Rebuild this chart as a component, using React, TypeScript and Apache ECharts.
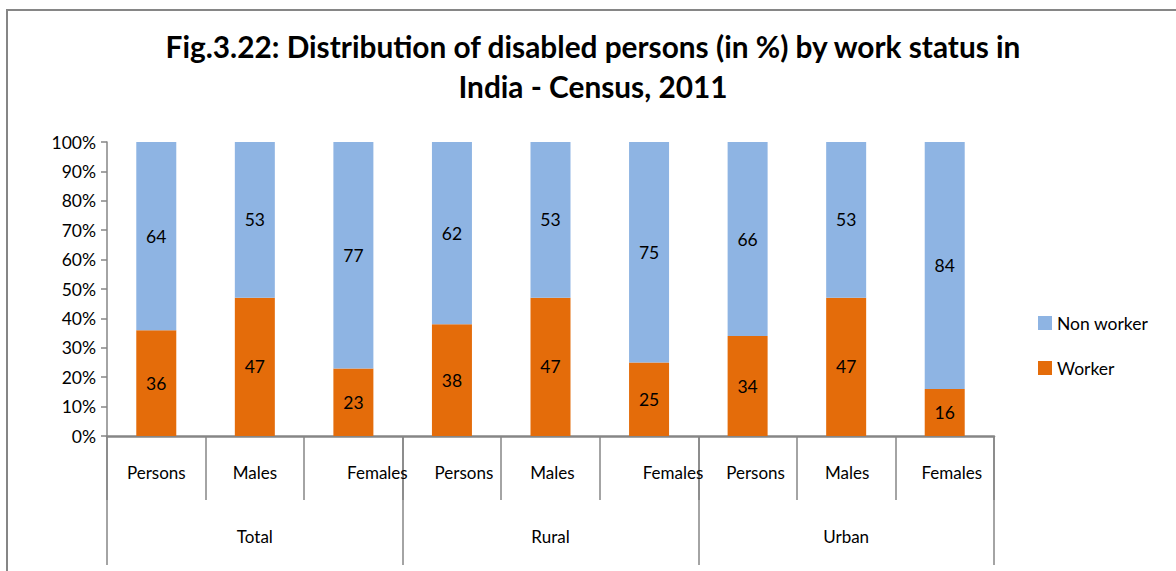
import React, { useEffect, useRef } from "react";
import * as echarts from "echarts";

const subCategories = ["Persons", "Males", "Females", "Persons", "Males", "Females", "Persons", "Males", "Females"];
const groups = ["Total", "Rural", "Urban"];
const worker = [36, 47, 23, 38, 47, 25, 34, 47, 16];
const nonWorker = [64, 53, 77, 62, 53, 75, 66, 53, 84];
const titleText = "Fig.3.22: Distribution of disabled persons (in %) by work status in\nIndia - Census, 2011";

// label horizontal nudges (style only), as in the reference rendering
const labelShift = [0, 0, 24, 12, 2, 24, 8, 1, 7];

const FONT = "Lato";
const GRAY = "#868686";

export default function App() {
  const ref = useRef<HTMLDivElement>(null);
  useEffect(() => {
    document.body.style.margin = "0";
    const chart = echarts.init(ref.current!, null, { renderer: "svg" });
    const rich: Record<string, any> = {};
    labelShift.forEach((s, i) => {
      rich["s" + i] = {
        fontFamily: FONT,
        fontSize: 17,
        color: "#000",
        padding: s >= 0 ? [0, 0, 0, 2 * s] : [0, -2 * s, 0, 0],
      };
    });
    chart.setOption({
      animation: false,
      textStyle: { fontFamily: FONT },
      title: {
        text: titleText,
        left: 593,
        top: 26,
        padding: 0,
        textAlign: "center",
        textStyle: { fontFamily: FONT, fontSize: 29.8, fontWeight: "bold", color: "#000", lineHeight: 40 },
      },
      legend: {
        orient: "vertical",
        left: 1033,
        top: 309,
        itemWidth: 14,
        itemHeight: 14,
        itemGap: 27,
        icon: "rect",
        data: ["Non worker", "Worker"],
        textStyle: { fontFamily: FONT, fontSize: 17.5, color: "#000" },
      },
      grid: { left: 107, right: 182, top: 142, bottom: 135, containLabel: false },
      xAxis: [
        {
          type: "category",
          data: subCategories,
          position: "bottom",
          axisLine: { show: true, lineStyle: { color: GRAY, width: 2.5 } },
          axisTick: { show: true, interval: 0, length: 64, lineStyle: { color: GRAY, width: 1.5 } },
          axisLabel: {
            interval: 0,
            margin: 28,
            formatter: (v: string, i: number) => `{s${i}|${v}}`,
            rich,
          },
        },
        {
          type: "category",
          data: groups,
          position: "bottom",
          axisLine: { show: false },
          axisTick: { show: true, interval: 0, length: 129, lineStyle: { color: GRAY, width: 1.5 } },
          axisLabel: { interval: 0, margin: 92, fontFamily: FONT, fontSize: 17, color: "#000" },
        },
      ],
      yAxis: {
        type: "value",
        min: 0,
        max: 100,
        interval: 10,
        axisLine: { show: true, lineStyle: { color: GRAY, width: 1.5 } },
        axisTick: { show: true, length: 6, lineStyle: { color: GRAY, width: 1.5 } },
        splitLine: { show: false },
        axisLabel: { formatter: "{value}%", fontFamily: FONT, fontSize: 17.5, color: "#000", margin: 11 },
      },
      series: [
        {
          name: "Worker",
          type: "bar",
          stack: "all",
          data: worker,
          barWidth: 40,
          itemStyle: { color: "#E46C0A" },
          label: { show: true, position: "inside", fontFamily: FONT, fontSize: 17.5, color: "#000" },
        },
        {
          name: "Non worker",
          type: "bar",
          stack: "all",
          data: nonWorker,
          barWidth: 40,
          itemStyle: { color: "#8EB4E3" },
          label: { show: true, position: "inside", fontFamily: FONT, fontSize: 17.5, color: "#000" },
        },
      ],
      graphic: [
        {
          type: "rect",
          shape: { x: 7, y: 10, width: 1400, height: 800 },
          style: { fill: "none", stroke: GRAY, lineWidth: 2 },
          silent: true,
          z: -1,
        },
      ],
    });
    return () => chart.dispose();
  }, []);
  return <div ref={ref} style={{ width: 1176, height: 571 }} />;
}
